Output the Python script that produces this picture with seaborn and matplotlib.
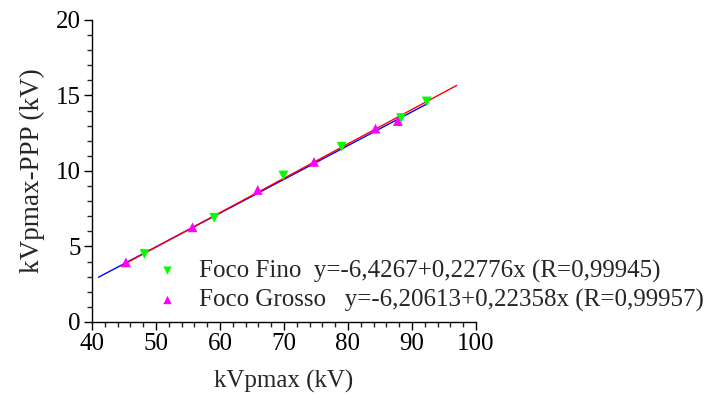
import matplotlib
matplotlib.use("Agg")
import matplotlib.pyplot as plt
import seaborn as sns
import pandas as pd
import numpy as np
from matplotlib.ticker import MultipleLocator

sns.set_style("ticks")
plt.rcParams['font.family'] = ['Liberation Serif', 'DejaVu Serif']

# Data
fino_x = [48.2, 59.1, 69.9, 79.0, 88.3, 92.3]
fino_y = [4.5, 6.9, 9.7, 11.6, 13.5, 14.6]
grosso_x = [45.3, 55.7, 65.9, 74.7, 84.3, 87.8]
grosso_y = [3.95, 6.27, 8.74, 10.6, 12.8, 13.3]

fino_fit = (-6.4267, 0.22776)
grosso_fit = (-6.20613, 0.22358)
fino_fit_range = [44.5, 97.0]
grosso_fit_range = [41.0, 92.3]

label_fino = "Foco Fino  y=-6,4267+0,22776x (R=0,99945)"
label_grosso = "Foco Grosso   y=-6,20613+0,22358x (R=0,99957)"

fig = plt.figure(figsize=(7.15, 3.98), dpi=100)
ax = fig.add_axes([0.1287, 0.191, 0.5370, 0.759])

fx = np.array(fino_fit_range)
gx = np.array(grosso_fit_range)
df_ff = pd.DataFrame({"x": fx, "y": fino_fit[0] + fino_fit[1] * fx})
df_gf = pd.DataFrame({"x": gx, "y": grosso_fit[0] + grosso_fit[1] * gx})
sns.lineplot(data=df_gf, x="x", y="y", ax=ax, color="#0000FF", linewidth=1.0)
sns.lineplot(data=df_ff, x="x", y="y", ax=ax, color="#FF0000", linewidth=1.0)

df_f = pd.DataFrame({"x": fino_x, "y": fino_y})
df_g = pd.DataFrame({"x": grosso_x, "y": grosso_y})
sns.scatterplot(data=df_f, x="x", y="y", ax=ax, marker="v", color="#00FF00",
                s=50, edgecolor="none", label=label_fino, zorder=3)
sns.scatterplot(data=df_g, x="x", y="y", ax=ax, marker="^", color="#FF00FF",
                s=50, edgecolor="none", label=label_grosso, zorder=3)

ax.set_xlim(40, 100)
ax.set_ylim(0, 20)
ax.xaxis.set_major_locator(MultipleLocator(10))
ax.xaxis.set_minor_locator(MultipleLocator(2))
ax.yaxis.set_major_locator(MultipleLocator(5))
ax.yaxis.set_minor_locator(MultipleLocator(1))
ax.tick_params(which="major", direction="out", length=6, width=1, labelsize=18,
               colors="black", pad=2)
ax.tick_params(which="minor", direction="out", length=3.5, width=1)
for s in ["top", "right"]:
    ax.spines[s].set_visible(False)
for s in ["left", "bottom"]:
    ax.spines[s].set_linewidth(1)
    ax.spines[s].set_color("black")

ax.set_xlabel("kVpmax (kV)", fontsize=18, labelpad=11)
ax.set_ylabel("kVpmax-PPP (kV)", fontsize=19.5, labelpad=8)

leg = ax.legend(loc="center left", bbox_to_anchor=(0.2168, 0.282),
                bbox_transform=fig.transFigure, frameon=False,
                fontsize=18, handlelength=1.0, handletextpad=0.74,
                markerscale=0.85, labelspacing=0.25, borderpad=0,
                borderaxespad=0)

fig.savefig("out.png", dpi=100)
